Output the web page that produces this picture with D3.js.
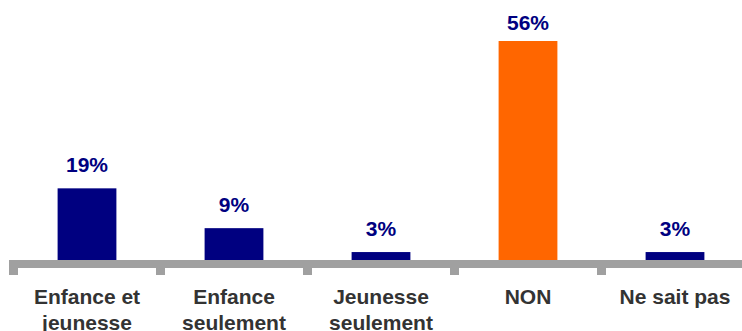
<!DOCTYPE html>
<html><head><meta charset="utf-8">
<script src="https://cdn.jsdelivr.net/npm/d3@7"></script>
<style>body{margin:0;background:#fff}svg{display:block}</style>
</head><body><svg id="c" width="742" height="331"></svg>
<script>
const categories = [["Enfance et","jeunesse"],["Enfance","seulement"],["Jeunesse","seulement"],["NON"],["Ne sait pas"]];
const values = [19, 9, 3, 56, 3];
const colors = ["#000080","#000080","#000080","#FF6600","#000080"];
const labels = ["19%","9%","3%","56%","3%"];

const svg = d3.select("#c");
const x = d3.scaleBand().domain(d3.range(categories.length)).range([13.5, 13.5 + 147*5]).paddingInner(0.6).paddingOuter(0.3);
const y = d3.scaleLinear().domain([0, 56]).range([264, 41]);

svg.selectAll("rect.bar").data(values).join("rect").attr("class","bar")
  .attr("x",(d,i)=>x(i)).attr("width",x.bandwidth())
  .attr("y",d=>y(d)).attr("height",d=>y(0)-y(d))
  .attr("fill",(d,i)=>colors[i]);

// axis band
const ax = d3.scaleLinear().domain([0,5]).range([13.5, 13.5+147*5]);
svg.append("rect").attr("x",9).attr("y",260).attr("width",147*5+9).attr("height",8).attr("fill","#a0a0a0");
svg.selectAll("rect.tick").data(d3.range(6)).join("rect").attr("class","tick")
  .attr("x",d=>ax(d)-4.5).attr("y",260).attr("width",9).attr("height",15).attr("fill","#a0a0a0");

svg.selectAll("text.val").data(values).join("text").attr("class","val")
  .attr("x",(d,i)=>x(i)+x.bandwidth()/2).attr("y",d=>Math.max(y(d)-16, 30))
  .attr("text-anchor","middle").attr("font-family","Liberation Sans, Arial, sans-serif")
  .attr("font-weight","bold").attr("font-size",21).attr("fill","#000080")
  .text((d,i)=>labels[i]);

const cat = svg.selectAll("text.cat").data(categories).join("text").attr("class","cat")
  .attr("x",(d,i)=>x(i)+x.bandwidth()/2).attr("y",303.5)
  .attr("text-anchor","middle").attr("font-family","Liberation Sans, Arial, sans-serif")
  .attr("font-weight","bold").attr("font-size",21).attr("fill","#333333");
cat.each(function(d,i){
  const t = d3.select(this);
  d.forEach((line,j)=>t.append("tspan").attr("x",x(i)+x.bandwidth()/2).attr("dy",j===0?0:26).text(line));
});
</script></body></html>
